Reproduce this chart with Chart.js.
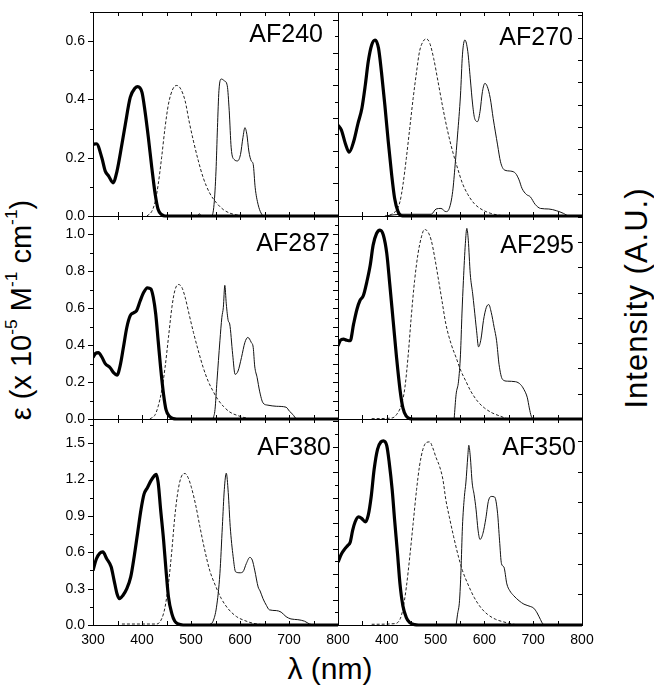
<!DOCTYPE html>
<html>
<head>
<meta charset="utf-8">
<script src="https://cdn.jsdelivr.net/npm/chart.js@4.4.0/dist/chart.umd.min.js"></script>
<style>
  body { margin: 0; background: #fff; }
  #wrap { position: relative; width: 654px; height: 686px; overflow: hidden; font-family: 'Liberation Sans', Arial, sans-serif; }
  #wrap canvas { position: absolute; }
  .title { position: absolute; white-space: nowrap; color: #000; line-height: 1; }
  .title sup { font-size: 0.6em; vertical-align: 0.75em; line-height: 0; }
  #yTitle { left: 21px; top: 310px; font-size: 29px; transform: translate(-50%, -50%) rotate(-90deg); }
  #y2Title { left: 636px; top: 298px; font-size: 31px; letter-spacing: 1px; transform: translate(-50%, -50%) rotate(-90deg); }
  #xTitle { left: 330px; top: 669px; font-size: 30px; transform: translate(-50%, -50%); }
</style>
</head>
<body>
<div id="wrap">
  <div class="title" id="yTitle">ε (x 10<sup>-5</sup> M<sup>-1</sup> cm<sup>-1</sup>)</div>
  <div class="title" id="y2Title">Intensity (A.U.)</div>
  <div class="title" id="xTitle">λ (nm)</div>
</div>
<script>
// panel names, left to right, top to bottom
const panelNames = ['AF240', 'AF270', 'AF287', 'AF295', 'AF380', 'AF350'];
const xTicks = [300, 400, 500, 600, 700, 800];
const yTicksTop = [0, 0.2, 0.4, 0.6];
const yTicksMid = [0, 0.2, 0.4, 0.6, 0.8, 1.0];
const yTicksBot = [0, 0.3, 0.6, 0.9, 1.2, 1.5];
const rowMax = [0.7, 1.1, 1.7];

// [wavelength nm, value] - abs = thick, fl = dashed, ph = thin
const af240Abs = [[300,0.246],[307,0.248],[318,0.200],[325,0.154],[332,0.137],[341,0.114],[349,0.154],[359,0.246],[366,0.315],[376,0.407],[386,0.439],[391,0.444],[400,0.424],[406,0.361],[413,0.269],[420,0.166],[427,0.074],[433,0.022],[440,0.005],[447,0],[800,0]];
const af240Fl = [[410,0],[420,0.016],[427,0.05],[433,0.108],[440,0.2],[447,0.303],[454,0.384],[463,0.436],[471,0.448],[479,0.436],[488,0.395],[496,0.326],[505,0.257],[515,0.189],[525,0.131],[538,0.079],[552,0.045],[566,0.022],[579,0.010],[599,0.002],[613,0],[800,0]];
const af240Ph = [[500,0],[513,0],[517,0.008],[521,0],[542,0],[547,0.039],[551,0.154],[554,0.303],[557,0.43],[562,0.47],[568,0.464],[574,0.447],[578,0.361],[582,0.234],[588,0.194],[595,0.189],[601,0.211],[606,0.269],[610,0.303],[614,0.28],[618,0.223],[623,0.189],[627,0.177],[631,0.097],[637,0.039],[643,0.01],[648,0],[800,0]];

const af270Abs = [[300,0.312],[307,0.295],[315,0.249],[323,0.219],[332,0.255],[341,0.318],[349,0.370],[356,0.450],[362,0.530],[369,0.587],[376,0.604],[383,0.576],[389,0.495],[396,0.381],[403,0.255],[410,0.141],[416,0.061],[423,0.015],[430,0.001],[437,0],[800,0]];
const af270Fl = [[396,0],[410,0.006],[420,0.021],[427,0.049],[433,0.106],[440,0.198],[447,0.301],[454,0.404],[461,0.495],[467,0.564],[474,0.598],[481,0.608],[488,0.593],[496,0.541],[505,0.461],[515,0.370],[525,0.289],[535,0.221],[545,0.164],[555,0.112],[566,0.074],[579,0.043],[593,0.024],[613,0.009],[633,0.002],[647,0],[800,0]];
const af270Ph = [[400,0.001],[430,0.006],[491,0.006],[501,0.024],[511,0.026],[521,0.015],[528,0.026],[535,0.084],[540,0.175],[545,0.278],[551,0.415],[555,0.553],[560,0.604],[566,0.564],[571,0.473],[576,0.381],[580,0.335],[586,0.324],[591,0.358],[596,0.427],[601,0.455],[606,0.444],[612,0.404],[618,0.335],[627,0.244],[633,0.186],[641,0.158],[654,0.154],[664,0.146],[671,0.124],[677,0.095],[686,0.074],[694,0.066],[704,0.040],[715,0.026],[732,0.024],[748,0.018],[762,0.009],[772,0.001],[800,0.001]];

const af287Abs = [[300,0.333],[305,0.355],[311,0.36],[318,0.336],[325,0.300],[335,0.278],[342,0.251],[349,0.238],[356,0.296],[362,0.387],[369,0.496],[376,0.560],[383,0.576],[389,0.587],[396,0.638],[403,0.684],[411,0.711],[418,0.705],[423,0.66],[428,0.569],[433,0.424],[438,0.278],[444,0.133],[449,0.051],[456,0.015],[464,0.002],[471,0],[800,0]];
const af287Fl = [[416,0],[427,0.024],[433,0.069],[440,0.151],[447,0.278],[454,0.442],[461,0.605],[467,0.696],[474,0.729],[481,0.715],[488,0.66],[496,0.569],[505,0.469],[515,0.369],[525,0.278],[535,0.205],[545,0.151],[555,0.105],[566,0.069],[579,0.038],[596,0.018],[613,0.005],[627,0],[800,0]];
const af287Ph = [[545,0],[549,0.051],[553,0.205],[559,0.424],[563,0.551],[566,0.605],[569,0.724],[572,0.624],[576,0.533],[579,0.515],[585,0.351],[590,0.242],[596,0.26],[603,0.333],[610,0.415],[616,0.442],[623,0.415],[627,0.387],[630,0.287],[635,0.224],[640,0.151],[647,0.087],[657,0.075],[674,0.069],[694,0.064],[701,0.042],[708,0.024],[715,0.002],[728,0],[800,0]];

const af295Abs = [[300,0.396],[305,0.427],[311,0.433],[318,0.427],[325,0.424],[332,0.515],[339,0.596],[345,0.642],[352,0.669],[359,0.742],[366,0.833],[372,0.942],[379,1.005],[386,1.024],[393,0.996],[400,0.896],[406,0.733],[413,0.533],[420,0.333],[427,0.16],[433,0.06],[440,0.015],[447,0.002],[454,0],[800,0]];
const af295Fl = [[369,0.002],[410,0.005],[420,0.024],[430,0.078],[437,0.169],[444,0.351],[450,0.551],[457,0.751],[464,0.896],[471,0.987],[477,1.027],[484,1.015],[491,0.969],[498,0.878],[505,0.769],[513,0.642],[521,0.515],[532,0.405],[542,0.333],[552,0.26],[562,0.205],[572,0.151],[586,0.096],[600,0.06],[616,0.033],[633,0.015],[647,0.002],[660,0],[800,0]];
const af295Ph = [[538,0],[542,0.133],[547,0.205],[551,0.351],[554,0.569],[557,0.751],[561,0.951],[564,1.033],[567,0.969],[571,0.787],[576,0.678],[579,0.605],[584,0.478],[588,0.391],[593,0.433],[598,0.533],[604,0.605],[609,0.62],[614,0.578],[620,0.496],[625,0.424],[630,0.296],[637,0.215],[647,0.205],[664,0.202],[674,0.187],[681,0.16],[688,0.115],[692,0.06],[696,0.015],[701,0.002],[715,0],[800,0]];

const af380Abs = [[300,0.45],[307,0.547],[314,0.594],[320,0.603],[328,0.547],[337,0.48],[343,0.369],[349,0.258],[354,0.217],[361,0.244],[369,0.3],[377,0.397],[384,0.564],[391,0.758],[398,0.953],[404,1.078],[411,1.133],[418,1.189],[425,1.231],[429,1.244],[433,1.175],[438,0.953],[444,0.703],[449,0.453],[454,0.231],[461,0.092],[467,0.031],[474,0.008],[484,0],[800,0]];
const af380Fl = [[359,0.008],[430,0.008],[440,0.05],[447,0.147],[454,0.342],[461,0.619],[467,0.897],[474,1.119],[481,1.231],[488,1.25],[494,1.217],[501,1.133],[510,0.981],[518,0.814],[528,0.619],[538,0.453],[551,0.314],[562,0.217],[576,0.133],[593,0.069],[610,0.036],[627,0.014],[647,0.003],[670,0],[800,0]];
const af380Ph = [[538,0.003],[545,0.031],[552,0.147],[559,0.425],[564,0.814],[568,1.119],[572,1.253],[576,1.094],[580,0.814],[586,0.564],[591,0.439],[600,0.431],[606,0.439],[613,0.508],[620,0.558],[625,0.536],[630,0.453],[637,0.314],[641,0.281],[647,0.217],[654,0.161],[660,0.125],[674,0.119],[684,0.106],[694,0.069],[704,0.05],[718,0.044],[732,0.031],[742,0.008],[755,0],[800,0]];

const af350Abs = [[300,0.519],[307,0.586],[314,0.628],[320,0.656],[325,0.683],[330,0.781],[335,0.85],[342,0.892],[349,0.878],[356,0.85],[362,0.906],[368,1.058],[374,1.283],[381,1.45],[388,1.511],[393,1.519],[400,1.478],[405,1.339],[411,1.117],[416,0.867],[422,0.589],[427,0.339],[433,0.158],[440,0.061],[447,0.019],[457,0.003],[465,0],[800,0]];
const af350Fl = [[369,0.006],[416,0.011],[427,0.047],[433,0.131],[440,0.311],[447,0.561],[454,0.839],[461,1.117],[467,1.311],[474,1.45],[481,1.506],[488,1.511],[494,1.464],[501,1.381],[508,1.311],[515,1.2],[521,1.033],[528,0.894],[537,0.728],[547,0.561],[555,0.45],[566,0.339],[579,0.228],[593,0.142],[606,0.089],[623,0.047],[640,0.025],[660,0.006],[680,0],[800,0]];
const af350Ph = [[542,0],[545,0.089],[549,0.2],[552,0.447],[555,0.811],[559,1.061],[562,1.172],[566,1.394],[568,1.483],[571,1.394],[575,1.172],[579,1.075],[583,0.95],[587,0.783],[591,0.706],[597,0.756],[603,0.881],[608,1.019],[614,1.061],[621,1.056],[627,0.922],[631,0.7],[635,0.506],[640,0.478],[646,0.339],[652,0.283],[660,0.242],[671,0.2],[681,0.172],[694,0.153],[701,0.139],[708,0.1],[715,0.044],[720,0.008],[728,0],[800,0]];

const rowTicks = [yTicksTop, yTicksMid, yTicksBot];
const cols = [{left: 93, right: 338}, {left: 338, right: 582}];
const rows = [{top: 12, bottom: 216}, {top: 216, bottom: 419}, {top: 419, bottom: 625}];

// tick steps of the unlabeled axes on the right-hand panels (row units)
const rightColLeftMinor = [0.056, 0.05, 0.105];
const rightColRightStep = [0.0765, 0.137, 0.253];

const panels = [
  {abs: af240Abs, fl: af240Fl, ph: af240Ph, col: 0, row: 0, labelRight: 15, labelBase: 30},
  {abs: af270Abs, fl: af270Fl, ph: af270Ph, col: 1, row: 0, labelRight: 9, labelBase: 33},
  {abs: af287Abs, fl: af287Fl, ph: af287Ph, col: 0, row: 1, labelRight: 8, labelBase: 35},
  {abs: af295Abs, fl: af295Fl, ph: af295Ph, col: 1, row: 1, labelRight: 8, labelBase: 37},
  {abs: af380Abs, fl: af380Fl, ph: af380Ph, col: 0, row: 2, labelRight: 7, labelBase: 36},
  {abs: af350Abs, fl: af350Fl, ph: af350Ph, col: 1, row: 2, labelRight: 6, labelBase: 36},
];

Chart.defaults.font.family = "'Liberation Sans', Arial, sans-serif";
Chart.defaults.font.size = 14;
Chart.defaults.color = '#000';

// frame, inward/outward tick marks and panel name
const panelFrame = {
  id: 'panelFrame',
  afterDatasetsDraw(chart, args, opts) {
    const {ctx, chartArea: a} = chart;
    const x = chart.scales.x, y = chart.scales.y;
    const px = v => Math.round(x.getPixelForValue(v)) + 0.5;
    const py = v => Math.round(y.getPixelForValue(v)) + 0.5;
    ctx.save();
    ctx.strokeStyle = '#000';
    ctx.lineWidth = 1;
    ctx.beginPath();
    for (let v = 300; v <= 800; v += 50) {
      ctx.moveTo(px(v), a.top); ctx.lineTo(px(v), a.top + 4);
      ctx.moveTo(px(v), a.bottom); ctx.lineTo(px(v), a.bottom - 4);
    }
    const n = Math.floor(y.max / opts.leftMinor + 1e-6);
    for (let i = 0; i <= n; i++) {
      const len = i % 2 === 0 ? 5 : 3;
      ctx.moveTo(a.left, py(i * opts.leftMinor)); ctx.lineTo(a.left - len, py(i * opts.leftMinor));
    }
    if (opts.rightStep) {
      const m = Math.floor(y.max / opts.rightStep + 1e-6);
      for (let i = 1; i <= m; i++) {
        ctx.moveTo(a.right, py(i * opts.rightStep)); ctx.lineTo(a.right - 4, py(i * opts.rightStep));
      }
    }
    ctx.stroke();
    ctx.strokeRect(Math.round(a.left) + 0.5, Math.round(a.top) + 0.5,
      Math.round(a.right) - Math.round(a.left), Math.round(a.bottom) - Math.round(a.top));
    ctx.font = "25px 'Liberation Sans', Arial, sans-serif";
    ctx.fillStyle = '#000';
    ctx.textAlign = 'right';
    ctx.textBaseline = 'alphabetic';
    ctx.fillText(opts.label, a.right - opts.labelRight, a.top + opts.labelBase);
    ctx.restore();
  }
};

const wrap = document.getElementById('wrap');

panels.forEach((p, i) => {
  const c = cols[p.col], r = rows[p.row];
  const padL = p.col === 0 ? 48 : 6, padT = 6, padR = 14, padB = 6;
  const xH = p.row === 2 ? 24 : 0;
  const cv = document.createElement('canvas');
  cv.width = padL + c.right - c.left + padR;
  cv.height = padT + r.bottom - r.top + xH + padB;
  cv.style.left = (c.left - padL) + 'px';
  cv.style.top = (r.top - padT) + 'px';
  wrap.appendChild(cv);

  const ticksX = p.col === 0 ? xTicks : xTicks.filter(v => v !== 300);

  new Chart(cv, {
    type: 'line',
    data: {
      datasets: [
        {label: 'abs', data: p.abs, borderColor: '#000', borderWidth: 3.2,
          clip: {left: 0, top: 0, right: 0, bottom: 3}},
        {label: 'fl', data: p.fl, borderColor: '#222', borderWidth: 1, borderDash: [3, 2]},
        {label: 'ph', data: p.ph, borderColor: '#111', borderWidth: 1},
      ]
    },
    options: {
      responsive: false,
      animation: false,
      events: [],
      elements: {point: {radius: 0}, line: {cubicInterpolationMode: 'monotone'}},
      layout: {padding: {left: 0, top: padT, right: padR, bottom: padB}},
      plugins: {
        legend: {display: false},
        tooltip: {enabled: false},
        panelFrame: {
          label: panelNames[i],
          labelRight: p.labelRight,
          labelBase: p.labelBase,
          leftMinor: p.col === 0 ? (rowTicks[p.row][1] / 2) : rightColLeftMinor[p.row],
          rightStep: p.col === 1 ? rightColRightStep[p.row] : 0,
        }
      },
      scales: {
        x: {
          type: 'linear', min: 300, max: 800,
          grid: {display: false, drawTicks: true, tickLength: 4},
          border: {display: false},
          ticks: {display: p.row === 2, padding: 3, maxRotation: 0, font: {size: 14}},
          afterBuildTicks: s => { s.ticks = ticksX.map(v => ({value: v})); },
          afterFit: s => { s.height = xH; s.paddingLeft = 0; s.paddingRight = 0; }
        },
        y: {
          type: 'linear', min: 0, max: rowMax[p.row],
          grid: {display: false, drawTicks: true, tickLength: 5},
          border: {display: false},
          ticks: {display: p.col === 0, padding: 3, font: {size: 14}, callback: v => v.toFixed(1)},
          afterBuildTicks: s => { s.ticks = rowTicks[p.row].map(v => ({value: v})); },
          afterFit: s => { s.width = padL; s.paddingTop = 0; s.paddingBottom = 0; }
        }
      }
    },
    plugins: [panelFrame]
  });
});
</script>
</body>
</html>
